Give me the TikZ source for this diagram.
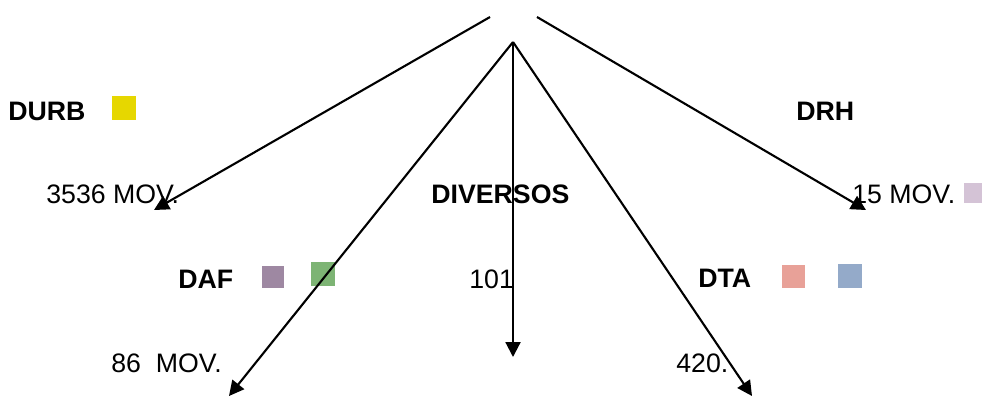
\documentclass[tikz,border=0pt]{standalone}
\usepackage{fontspec}
\setmainfont{Liberation Sans}
\usetikzlibrary{arrows.meta}
\definecolor{durbyellow}{HTML}{E6D700}
\definecolor{dafpurple}{HTML}{9E88A2}
\definecolor{dafgreen}{HTML}{7DB474}
\definecolor{dtapink}{HTML}{E8A198}
\definecolor{dtablue}{HTML}{94AAC9}
\definecolor{drhlilac}{HTML}{D4C3D6}

\begin{document}
\begin{tikzpicture}[x=0.02cm,y=-0.02cm,>={Triangle[length=8.5pt,width=8.5pt]},
  lbl/.style={anchor=base west,inner sep=0pt,font=\fontsize{15.2}{18}\selectfont},
  tag/.style={lbl,font=\fontsize{15.2}{18}\selectfont\bfseries},
  sq/.style={draw=none,inner sep=0pt,minimum size=#1*0.02cm},
  arr/.style={->,line width=1.2pt}]
  \useasboundingbox (0,0) rectangle (982,397);
  % labels
  \node[tag] (durb) at (8,120) {DURB};
  \node[lbl] (mov3536) at (46,203) {3536 MOV.};
  \node[tag] (drh) at (796,120) {DRH};
  \node[lbl] (mov15) at (852,203) {15 MOV.};
  \node[tag] (diversos) at (431,203) {DIVERSOS};
  \node[lbl] (n101) at (469,288) {101};
  \node[tag] (daf) at (178,288) {DAF};
  \node[lbl] (mov86) at (111,372) {86\ \ MOV.};
  \node[tag] (dta) at (698,287) {DTA};
  \node[lbl] (n420) at (676,372) {420.};
  % colour squares
  \node[sq=24,fill=durbyellow] (durbsq) at (124,108) {};
  \node[sq=22,fill=dafpurple] (dafsqa) at (272.5,277) {};
  \node[sq=24,fill=dafgreen] (dafsqb) at (323,274) {};
  \node[sq=23,fill=dtapink] (dtasqa) at (793.5,276) {};
  \node[sq=24,fill=dtablue] (dtasqb) at (850,275.5) {};
  \node[sq=18,minimum height=20*0.02cm,fill=drhlilac] (drhsq) at (973,193) {};
  % arrows
  \coordinate (topl) at (490,17);
  \coordinate (topr) at (537,17);
  \coordinate (apex) at (513,42);
  \coordinate (tipdurb) at (154,210);
  \coordinate (tipdrh) at (866,210);
  \coordinate (tipdaf) at (229,396);
  \coordinate (tipdiv) at (513,357);
  \coordinate (tipdta) at (752,396);
  \draw[arr] (topl) -- (tipdurb);
  \draw[arr] (topr) -- (tipdrh);
  \draw[arr] (apex) -- (tipdaf);
  \draw[arr] (apex) -- (tipdiv);
  \draw[arr] (apex) -- (tipdta);
\end{tikzpicture}
\end{document}
